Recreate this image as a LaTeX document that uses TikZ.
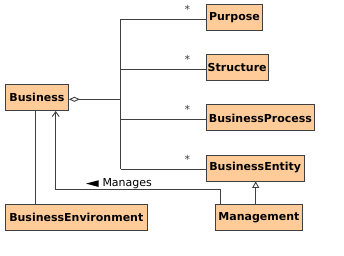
\documentclass[tikz,border=0pt]{standalone}
\usepackage{fontspec}
\setmainfont{DejaVu Sans}
\usetikzlibrary{arrows.meta}
\definecolor{classfill}{RGB}{255,204,153}
\definecolor{umlline}{RGB}{64,64,64}
\tikzset{
  classbox/.style={draw=umlline, line width=0.9pt, fill=classfill, inner sep=0pt,
    minimum height=26pt, anchor=north west,
    font=\fontsize{11}{13}\selectfont\bfseries},
  link/.style={draw=umlline, line width=0.9pt},
  mult/.style={font=\fontsize{11}{13}\selectfont, text=umlline, inner sep=0pt},
  assoclabel/.style={font=\fontsize{11}{13}\selectfont, text=black, inner sep=0pt, anchor=west}
}
\begin{document}
\begin{tikzpicture}[x=1pt,y=-1pt]
  \useasboundingbox (0,0) rectangle (344,256);

  % classes
  \node[classbox, minimum width=63pt]    (business) at (5,84)    {Business};
  \node[classbox, minimum width=56pt]    (purpose)  at (206,4.5) {Purpose};
  \node[classbox, minimum width=61.5pt]  (structure) at (206,54.5) {Structure};
  \node[classbox, minimum width=108pt]   (process)  at (206,104.5) {BusinessProcess};
  \node[classbox, minimum width=97.5pt]  (entity)   at (206,154.5) {BusinessEntity};
  \node[classbox, minimum width=141.7pt] (environment) at (5,204.3) {BusinessEnvironment};
  \node[classbox, minimum width=86.4pt]  (management) at (215.3,204.3) {Management};

  % aggregation trunk
  \coordinate (aggstart) at (business.east |- 0,99.3);
  \coordinate (trunkmid) at (120.7,99.3);
  \coordinate (ttop) at (120.7,19.3);
  \coordinate (tstruct) at (120.7,69.3);
  \coordinate (tproc) at (120.7,119.3);
  \coordinate (tbot) at (120.7,169.3);

  \draw[link, {Diamond[open,length=11pt,width=5pt,fill=white]}-] (aggstart) -- (trunkmid);
  \draw[link] (ttop) -- (tbot);
  \draw[link] (ttop) -- (ttop -| purpose.west);
  \draw[link] (tstruct) -- (tstruct -| structure.west);
  \draw[link] (tproc) -- (tproc -| process.west);
  \draw[link] (tbot) -- (tbot -| entity.west);

  % multiplicities
  \node[mult] (mpurpose) at (187.3,9.5) {*};
  \node[mult] (mstruct)  at (187.3,59.5) {*};
  \node[mult] (mproc)    at (187.3,109.5) {*};
  \node[mult] (mentity)  at (187.3,159.5) {*};

  % Business -- BusinessEnvironment
  \coordinate (envtop) at (35,0);
  \draw[link] (envtop |- business.south) -- (envtop |- environment.north);

  % Manages association
  \coordinate (mgtop) at (220.7,0);
  \coordinate (mgbend) at (220.7,189);
  \coordinate (bzbend) at (55.7,189);
  \draw[link, -{Straight Barb[length=5pt,width=7pt]}]
    (mgtop |- management.north) -- (mgbend) -- (bzbend) -- (bzbend |- business.south);
  \node[assoclabel] (manages) at (102.3,183.3) {Manages};
  % reading-direction marker pointing left
  \fill[black] ([xshift=-16.3pt,yshift=-0.3pt]manages.west) -- ++(12.7,-3.4) -- ++(0,6.8) -- cycle;

  % generalization Management -> BusinessEntity
  \coordinate (gen) at (255.7,0);
  \draw[link, -{Triangle[open,length=6.5pt,width=7pt,fill=white]}]
    (gen |- management.north) -- (gen |- entity.south);
\end{tikzpicture}
\end{document}
